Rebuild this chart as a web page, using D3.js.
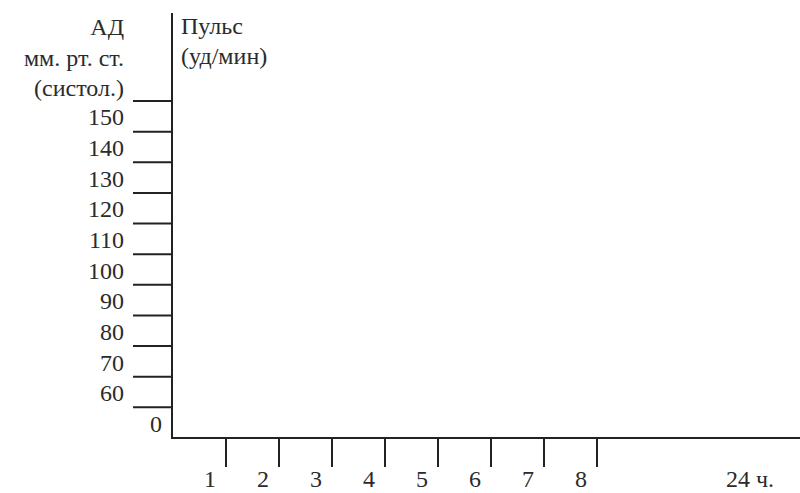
<!DOCTYPE html>
<html>
<head>
<meta charset="utf-8">
<script src="https://cdn.jsdelivr.net/npm/d3@7"></script>
<style>
  body { margin: 0; background: #fff; }
  svg { display: block; }
</style>
</head>
<body>
<script>
// y bands (systolic BP), top to bottom; last one is the zero row
let bp_labels = ["150", "140", "130", "120", "110", "100", "90", "80", "70", "60", "0"];
let bp_header = ["АД", "мм. рт. ст.", "(систол.)"];
let pulse_header = ["Пульс", "(уд/мин)"];
// hours on the x axis
let hours = [1, 2, 3, 4, 5, 6, 7, 8];
let last_hour = 24;
let last_label = "24 ч.";

let width = 800, height = 493;
let margin = { top: 13, left: 172, bottom: 438 };
let font = "'Liberation Serif', 'DejaVu Serif', serif";

let svg = d3.select("body")
  .append("svg")
    .attr("width", width)
    .attr("height", height)
    .attr("font-family", font)
    .attr("font-size", 24)
    .attr("fill", "#2b2b2b");

svg.append("rect").attr("width", width).attr("height", height).attr("fill", "#fff");

let y = d3.scaleBand()
  .domain(bp_labels)
  .range([101, margin.bottom])
  .paddingInner(0).paddingOuter(0);

let x = d3.scaleLinear()
  .domain([0, 8, last_hour])
  .range([margin.left + 1, 597, 766]);

let stroke = "#222";

// axes lines
svg.append("line")
  .attr("x1", margin.left).attr("x2", margin.left)
  .attr("y1", margin.top).attr("y2", margin.bottom + 1)
  .attr("stroke", stroke).attr("stroke-width", 2);
svg.append("line")
  .attr("x1", margin.left - 1).attr("x2", width)
  .attr("y1", margin.bottom).attr("y2", margin.bottom)
  .attr("stroke", stroke).attr("stroke-width", 2);

// y ticks at band boundaries (the zero row ends on the x axis)
svg.selectAll(".ytick")
  .data(bp_labels)
  .join("line")
    .attr("class", "ytick")
    .attr("x1", 133).attr("x2", margin.left)
    .attr("y1", d => y(d)).attr("y2", d => y(d))
    .attr("stroke", stroke).attr("stroke-width", 2);

svg.selectAll(".ylabel")
  .data(bp_labels)
  .join("text")
    .attr("class", "ylabel")
    .attr("text-anchor", "end")
    .attr("x", d => d == "0" ? 162 : 124)
    .attr("y", d => y(d) + y.bandwidth() / 2)
    .attr("dy", "0.38em")
    .text(d => d);

// headers
svg.selectAll(".bph")
  .data(bp_header)
  .join("text")
    .attr("class", "bph")
    .attr("text-anchor", "end")
    .attr("x", 124)
    .attr("y", (d, i) => 35 + i * 30.5)
    .text(d => d);

svg.selectAll(".ph")
  .data(pulse_header)
  .join("text")
    .attr("class", "ph")
    .attr("x", 181)
    .attr("y", (d, i) => 34 + i * 30)
    .text(d => d);

// x ticks
svg.selectAll(".xtick")
  .data(hours)
  .join("line")
    .attr("class", "xtick")
    .attr("x1", d => x(d)).attr("x2", d => x(d))
    .attr("y1", margin.bottom).attr("y2", 467)
    .attr("stroke", stroke).attr("stroke-width", 2);

svg.selectAll(".xlabel")
  .data(hours)
  .join("text")
    .attr("class", "xlabel")
    .attr("text-anchor", "middle")
    .attr("x", d => x(d) - 16)
    .attr("y", 487)
    .text(d => d);

svg.append("text")
  .attr("text-anchor", "middle")
  .attr("x", x(last_hour) - 16)
  .attr("y", 487)
  .text(last_label);
</script>
</body>
</html>
